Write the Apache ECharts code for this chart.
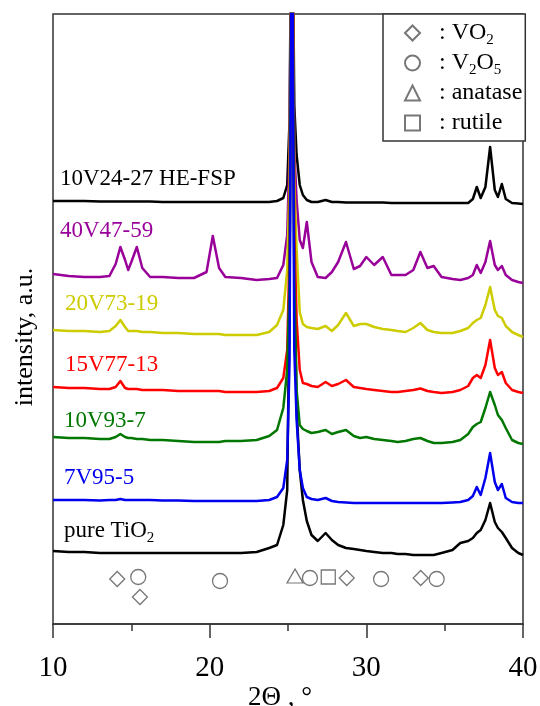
<!DOCTYPE html>
<html><head><meta charset="utf-8">
<script src="https://cdn.jsdelivr.net/npm/echarts@6/dist/echarts.min.js"></script>
<style>html,body{margin:0;padding:0;background:#fff}#c{width:540px;height:706px}</style>
</head><body><div id="c"></div>
<script>
// 2-theta positions (degrees)
const twoTheta = [10,11,12,13,13.6,14,14.3,14.6,14.8,15,15.35,15.7,16.2,17,18,19,19.8,20.2,20.6,21,22,23,23.8,24.3,24.7,24.95,25.1,25.25,25.4,25.55,25.75,25.95,26.2,26.5,26.9,27.4,27.8,28.2,28.7,29.2,29.6,30,30.5,31.05,31.6,32,32.5,33,33.45,33.9,34.3,34.8,35.5,36,36.5,36.8,37.05,37.3,37.6,37.9,38.2,38.4,38.65,38.9,39.3,39.7,40];

// stacked intensities (a.u., offset already included)
const hefsp = [423,423,423,422.5,422.5,422.5,422.5,422.5,422.5,422.5,422.5,422.5,422.5,422,422,422,422,422,422,422,422,422,422,423,426,439,504,800,519,469,439,429,424,422,422,424,422,422,421.5,421.5,421.5,421.5,421.5,421.5,421,421,421,421,421,421,421,421,421,421,421,425,437,426,437,477,434,427,440,425,421,420.5,420];
const v40 = [350,348,347,347,348,360,377,364,354,362,377,356,347,347,346,346,352,388,356,347,346,344,345,346,359,389,474,800,474,424,384,376,402,362,347,346,352,362,382,355,358,367,359,367,349,349,349,354,372,356,358,347,345,344,346,349,359,351,362,383,359,354,358,349,344,342,341];
const v20 = [294,293,293,292,293,298,304,297,293,293,293,292,292,291,291,290,290,290,290,289,289,289,292,299,314,354,444,800,444,374,312,300,297,296,295,298,293,299,311,298,300,300,297,295,294,293,292,296,301,294,292,291,291,293,296,301,304,306,319,337,314,308,306,298,292,289,287];
const v15 = [237,236,236,235,235,237,243,236,235,235,235,234,234,234,233,233,233,233,233,232,232,232,233,236,246,274,374,800,394,304,254,241,240,238,237,242,238,240,244,237,236,235,234,233,232,232,233,234,235.5,233,232,231,232,234,238,246,249,246,259,284,256,249,252,241,234,232,231];
const v10 = [187,186,186,185,185,187,190,187,186,186,185,185,184,184,183,182,182,182,182,183,183,184,188,194,216,254,344,800,344,234,199,195,193,191,192,194,190,192,194,188,186,187,185,184,183,182,183,185,186,183,181,181,182,184,190,197,200,202,216,232,219,209,204,196,184,181,180];
const v7 = [124,124,124,123.5,124,124,125,124,124,124,124,124,124,123.5,123.5,123,123,123,123,123,123,123,124,127,136,164,264,800,274,204,154,136,127,125,124,126,123,122,121.5,121,121,121,121,121,121,121,121,121,121,121,121,121,121.5,122,124,128,137,129,146,171,142,134,140,126,122,121,121];
const pureTiO2 = [73,72,72,71,71,71,71,71,71,71,71,71,71,71,71,71,71,71,71,71,71,72,76,79,99,134,330,800,360,214,154,124,103,89,83,91,84,79,76,75,74,73,72,71,71,70,70,69,69,69,69,71,74,81,83,86,91,94,104,121,102,96,92,86,76,71,69];

// reflection markers
const vo2X = [14.1, 15.55, 28.75, 33.47];   const vo2Y = [45, 27, 46, 46];
const v2o5X = [15.44, 20.66, 26.4, 30.94, 34.49]; const v2o5Y = [47, 43, 46, 45, 45];
const anataseX = [25.45]; const anataseY = [48];
const rutileX = [27.57];  const rutileY = [47];

const xTicks = [10, 20, 30, 40];

const FONT = "'Liberation Serif','Times New Roman',serif";
const pairs = ys => twoTheta.map((x, i) => [x, ys[i]]);
const pts = (xs, ys) => xs.map((x, i) => [x, ys[i]]);

const curves = [
  {name: 'pure TiO2', data: pureTiO2, color: '#000000'},
  {name: '10V24-27 HE-FSP', data: hefsp, color: '#000000'},
  {name: '40V47-59', data: v40, color: '#990099'},
  {name: '20V73-19', data: v20, color: '#cccc00'},
  {name: '15V77-13', data: v15, color: '#ff0000'},
  {name: '10V93-7', data: v10, color: '#007700'},
  {name: '7V95-5', data: v7, color: '#0000ee'}
];

const markStyle = {color: '#ffffff', borderColor: '#555555', borderWidth: 1.3};
const markerSeries = [
  {name: 'VO2', symbol: 'diamond', symbolSize: 15, data: pts(vo2X, vo2Y)},
  {name: 'V2O5', symbol: 'circle', symbolSize: 15, data: pts(v2o5X, v2o5Y)},
  {name: 'anatase', symbol: 'triangle', symbolSize: [16, 14], data: pts(anataseX, anataseY)},
  {name: 'rutile', symbol: 'rect', symbolSize: 14, data: pts(rutileX, rutileY)}
];
const legendText = {'VO2': ': VO{s|2}', 'V2O5': ': V{s|2}O{s|5}', 'anatase': ': anatase', 'rutile': ': rutile'};

const series = curves.map(c => ({
  name: c.name, type: 'line', data: pairs(c.data), showSymbol: false, symbol: 'none',
  lineStyle: {color: c.color, width: 2.5, join: 'round'}, itemStyle: {color: c.color},
  clip: true, silent: true, animation: false, z: 2
})).concat(markerSeries.map(m => ({
  name: m.name, type: 'scatter', symbol: m.symbol, symbolSize: m.symbolSize, data: m.data,
  itemStyle: markStyle, silent: true, animation: false, z: 3
})));

function label(text, x, y, color) {
  return {type: 'text', x: x, y: y, silent: true,
    style: {text: text, fill: color, align: 'left', verticalAlign: 'middle', fontSize: 23, fontFamily: FONT, lineHeight: 30,
      rich: {s: {fontSize: 15, fontFamily: FONT, fill: color, lineHeight: 15, verticalAlign: 'bottom'}}}};
}

const chart = echarts.init(document.getElementById('c'), null, {renderer: 'canvas'});
chart.setOption({
  animation: false,
  backgroundColor: '#ffffff',
  grid: {left: 53, right: 17, top: 14, bottom: 82, show: true, borderColor: '#333333', borderWidth: 1.5,
    backgroundColor: 'transparent', containLabel: false, outerBoundsMode: 'none'},
  xAxis: {
    type: 'value', min: 10, max: 40, interval: 10,
    name: '2\u0398 , \u00b0', nameLocation: 'middle', nameGap: 60, nameMoveOverlap: false,
    nameTextStyle: {fontFamily: FONT, fontSize: 27, color: '#000', padding: [0, 16, 0, 0]},
    axisLine: {show: true, onZero: false, lineStyle: {color: '#333333', width: 1.5}},
    axisTick: {show: true, length: 14, lineStyle: {color: '#333333', width: 1.5}},
    minorTick: {show: true, splitNumber: 2, length: 7, lineStyle: {color: '#333333', width: 1.5}},
    splitLine: {show: false}, minorSplitLine: {show: false},
    axisLabel: {fontFamily: FONT, fontSize: 29, color: '#000', margin: 30,
      formatter: v => xTicks.indexOf(v) >= 0 ? String(v) : ''}
  },
  yAxis: {type: 'value', min: 0, max: 610, axisLine: {show: false}, axisTick: {show: false},
    axisLabel: {show: false}, splitLine: {show: false}},
  legend: {
    orient: 'vertical', left: 383, top: 14, padding: [4, 3, 3, 21],
    itemWidth: 15, itemHeight: 15, itemGap: 0,
    borderColor: '#333333', borderWidth: 1.5, backgroundColor: '#ffffff',
    selectedMode: false,
    data: ['VO2', 'V2O5', 'anatase', 'rutile'],
    formatter: name => legendText[name],
    textStyle: {fontFamily: FONT, fontSize: 24, color: '#000', lineHeight: 30, padding: [0, 0, 0, 14],
      rich: {s: {fontSize: 15, fontFamily: FONT, color: '#000', verticalAlign: 'bottom', lineHeight: 15}}}
  },
  graphic: [
    label('10V24-27 HE-FSP', 60, 179, '#000000'),
    label('40V47-59', 60, 231, '#990099'),
    label('20V73-19', 65, 304, '#cccc00'),
    label('15V77-13', 65, 365, '#ff0000'),
    label('10V93-7', 64, 421, '#007700'),
    label('7V95-5', 64, 478, '#0000ee'),
    label('pure TiO{s|2}', 64, 531, '#000000'),
    {type: 'text', x: 25, y: 337, rotation: Math.PI / 2, silent: true,
      style: {text: 'intensity, a.u.', fill: '#000', fontSize: 26, fontFamily: FONT, align: 'center', verticalAlign: 'middle'}}
  ],
  series: series
});
</script>
</body></html>
